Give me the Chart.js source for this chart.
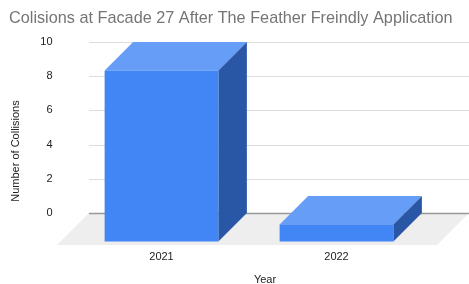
<!DOCTYPE html>
<html><head><meta charset="utf-8">
<script src="https://cdn.jsdelivr.net/npm/chart.js@4/dist/chart.umd.min.js"></script>
<style>html,body{margin:0;padding:0;background:#fff;overflow:hidden}#wrap{width:469px;height:284px}</style>
</head><body><div id="wrap"><canvas id="c" width="469" height="284"></canvas></div>
<script>
const chartTitle = 'Colisions at Facade 27 After The Feather Freindly Application';
const categories = ['2021', '2022'];
const collisions = [10, 1];
const yTickValues = [0, 2, 4, 6, 8, 10];
const xAxisTitle = 'Year';
const yAxisTitle = 'Number of Collisions';

const FONT = "'Liberation Sans', Arial, sans-serif";
const DEPTH = 28.5;
const FLOOR_DEPTH = 32;
const WALL_LEFT = 89, WALL_RIGHT = 469;

function poly(ctx, pts) {
  ctx.beginPath();
  ctx.moveTo(pts[0][0], pts[0][1]);
  for (let i = 1; i < pts.length; i++) ctx.lineTo(pts[i][0], pts[i][1]);
  ctx.closePath();
  ctx.fill();
}

const threeD = {
  id: 'threeD',
  beforeDatasetsDraw(chart) {
    const ctx = chart.ctx, ys = chart.scales.y;
    const y0 = ys.getPixelForValue(0);
    ctx.save();
    ctx.fillStyle = '#eeeeee';
    poly(ctx, [[WALL_LEFT, y0], [WALL_RIGHT, y0], [WALL_RIGHT - FLOOR_DEPTH, y0 + FLOOR_DEPTH], [WALL_LEFT - FLOOR_DEPTH, y0 + FLOOR_DEPTH]]);
    ys.ticks.forEach(t => {
      const py = Math.round(ys.getPixelForValue(t.value)) + 0.5;
      ctx.strokeStyle = t.value === 0 ? '#999999' : '#dddddd';
      ctx.lineWidth = t.value === 0 ? 1.5 : 1;
      ctx.beginPath(); ctx.moveTo(WALL_LEFT, py); ctx.lineTo(WALL_RIGHT, py); ctx.stroke();
    });
    const meta = chart.getDatasetMeta(0);
    meta.data.forEach(bar => {
      const p = bar.getProps(['x', 'y', 'base', 'width'], true);
      const xl = p.x - p.width / 2, xr = p.x + p.width / 2, top = p.y, base = p.base, d = DEPTH;
      ctx.fillStyle = '#669df6';
      poly(ctx, [[xl - d, top + d], [xl, top], [xr, top], [xr - d, top + d]]);
      ctx.fillStyle = '#2a56a6';
      poly(ctx, [[xr - d, top + d], [xr, top], [xr, base], [xr - d, base + d]]);
      ctx.fillStyle = '#4285f4';
      ctx.fillRect(xl - d, top + d, p.width, base - top);
    });
    ctx.restore();
    return false;
  },
  afterDraw(chart) {
    const ctx = chart.ctx;
    ctx.save();
    ctx.fillStyle = '#222222';
    ctx.font = '11px ' + FONT;
    ctx.textAlign = 'center';
    ctx.textBaseline = 'middle';
    ctx.fillText(xAxisTitle, 265, 280);
    ctx.translate(16, 151);
    ctx.rotate(-Math.PI / 2);
    ctx.fillText(yAxisTitle, 0, 0);
    ctx.restore();
  }
};

new Chart(document.getElementById('c'), {
  type: 'bar',
  data: {
    labels: categories,
    datasets: [{
      label: 'Collisions',
      data: collisions,
      backgroundColor: '#4285f4',
      barPercentage: 0.65,
      categoryPercentage: 1.0
    }]
  },
  options: {
    responsive: false,
    animation: false,
    events: [],
    layout: { padding: { left: 9, right: 16.5, top: 0, bottom: 0 } },
    plugins: {
      legend: { display: false },
      tooltip: { enabled: false },
      title: {
        display: true, text: chartTitle, align: 'start', color: '#757575',
        font: { family: FONT, size: 17, weight: 'normal' },
        padding: { top: 8, bottom: 13.6 }
      }
    },
    scales: {
      x: {
        grid: { display: false, drawTicks: false },
        border: { display: false },
        ticks: { color: '#222222', font: { family: FONT, size: 11 }, padding: 37, labelOffset: -28.5 },
        afterFit: s => { s.height = 71; }
      },
      y: {
        min: 0, max: 10,
        afterBuildTicks: s => { s.ticks = yTickValues.map(v => ({ value: v })); },
        grid: { display: false, drawTicks: false },
        border: { display: false },
        ticks: { color: '#222222', font: { family: FONT, size: 11 }, padding: 50 },
        afterFit: s => { s.width = 93.5; s.paddingTop = 7; s.paddingBottom = 7; }
      }
    }
  },
  plugins: [threeD]
});
</script>
</body></html>
